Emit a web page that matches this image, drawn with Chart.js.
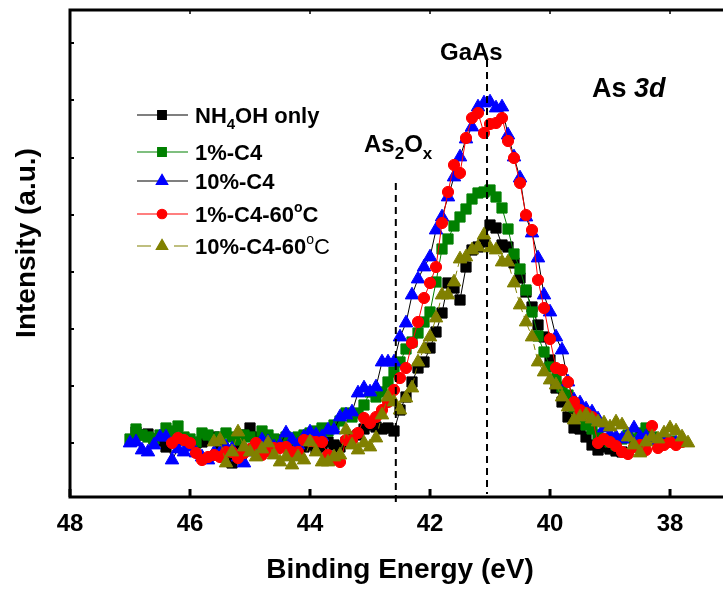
<!DOCTYPE html>
<html>
<head>
<meta charset="utf-8">
<script src="https://cdn.jsdelivr.net/npm/chart.js@4.4.1/dist/chart.umd.min.js"></script>
<style>
  html, body { margin: 0; padding: 0; background: #fff; }
  #wrap { width: 723px; height: 589px; }
</style>
</head>
<body>
<div id="wrap"><canvas id="xps" width="723" height="589"></canvas></div>
<script>
// binding energy grid (eV), shared by every spectrum
const energy = [
  47.0, 46.9, 46.8, 46.7, 46.6, 46.5, 46.4, 46.3, 46.2, 46.1,
  46.0, 45.9, 45.8, 45.7, 45.6, 45.5, 45.4, 45.3, 45.2, 45.1,
  45.0, 44.9, 44.8, 44.7, 44.6, 44.5, 44.4, 44.3, 44.2, 44.1,
  44.0, 43.9, 43.8, 43.7, 43.6, 43.5, 43.4, 43.3, 43.2, 43.1,
  43.0, 42.9, 42.8, 42.7, 42.6, 42.5, 42.4, 42.3, 42.2, 42.1,
  42.0, 41.9, 41.8, 41.7, 41.6, 41.5, 41.4, 41.3, 41.2, 41.1,
  41.0, 40.9, 40.8, 40.7, 40.6, 40.5, 40.4, 40.3, 40.2, 40.1,
  40.0, 39.9, 39.8, 39.7, 39.6, 39.5, 39.4, 39.3, 39.2, 39.1,
  39.0, 38.9, 38.8, 38.7, 38.6, 38.5, 38.4, 38.3, 38.2, 38.1,
  38.0, 37.9, 37.8, 37.7
]

// As 3d intensity (a.u.)
const nh4ohOnly = [
  null, 65, 62, 63, 58, 56, 50, 55, 60, 57,
  52, 54, 55, 58, 60, 50, 45, 34, 50, 62,
  69, 60, 55, 52, 54, 57, 52, 55, 58, 50,
  52, 48, 50, 55, 52, 50, 55, 60, 62, 68,
  72, 70, 68, 69, 66, 87, 100, 115, 129, 135,
  149, 165, 184, 214, 209, 197, 230, 247, 250, 255,
  272, 269, 252, 250, 234, 219, 205, 190, 172, 160,
  137, 109, 95, 80, 69, 68, 60, 52, 47, 50,
  48, 46, 45, null, null, null, null, null, null, null,
  null, null, null, null
]
const c4OnePct = [
  58, 68, 62, 60, 58, 62, 69, 66, 71, 60,
  58, 55, 64, 62, 58, 60, 64, 60, 57, 62,
  60, 55, 66, 62, 58, 54, 60, 57, 60, 62,
  64, 66, 69, 66, 72, 76, 84, 80, 84, 92,
  105, 100, 105, 115, 125, 135, 148, 155, 164, 175,
  185, 215, 248, 258, 271, 280, 288, 298, 304, 305,
  307, 300, 289, 268, 243, 228, 207, 185, 161, 145,
  130, 118, 110, 102, 90, 80, 72, 68, 62, 58,
  55, 52, 58, 62, 58, 64, 69, 60, 58, 55,
  56, null, null, null
]
const c4TenPct = [
  54, 55, 47, 45, 52, 60, 60, 37, 48, 45,
  50, 44, 40, 37, 44, 44, 50, 48, 40, 34,
  45, 50, 57, 55, 50, 52, 64, 57, 52, 60,
  65, 62, 60, 67, 67, 80, 82, 85, 104, 109,
  105, 110, 135, 135, 135, 160, 174, 202, 218, 230,
  240, 267, 280, 300, 320, 340, 358, 370, 390, 394,
  395, 389, 390, 362, 340, 319, 280, 264, 239, 202,
  185, 160, 147, 115, 97, 94, 88, 85, 78, 69,
  62, 60, 58, 62, 69, 60, 60, 60, 56, 55,
  54, 54, null, null
]
const c4OnePct60 = [
  null, null, null, null, null, null, null, 54, 59, 57,
  54, 44, 37, 40, 42, 40, 45, 45, 39, 44,
  48, 54, 42, 46, 49, 49, 50, 45, 45, 57,
  56, 55, 55, 42, 38, 35, 57, 57, 64, 79,
  74, 80, 87, 95, 107, 119, 129, 154, 175, 199,
  214, 230, 274, 305, 332, 324, 359, 379, 384, 364,
  373, 374, 379, 356, 339, 314, 282, 267, 217, 189,
  158, 129, 127, 115, 95, 87, 84, 80, 54, 58,
  55, 51, 45, 43, 50, 52, 47, 71, 49, 52,
  55, 52, 55, null
]
const c4TenPct60 = [
  null, null, null, null, null, null, null, null, null, null,
  null, null, null, null, 55, 57, 34, 45, 65, 50,
  45, 40, 48, 54, 42, 35, 40, 32, 40, 37,
  55, 45, 35, 35, 40, 42, 67, 52, 47, 54,
  50, 59, 82, 100, 95, 87, 99, 109, 135, 148,
  160, 179, 202, 202, 215, 238, 240, 247, 250, 262,
  249, 247, 235, 235, 214, 192, 175, 160, 135, 125,
  117, 112, 100, 90, 77, 80, 82, 78, 75, 74,
  70, 75, 72, 60, 52, 44, 55, 60, 58, 64,
  69, 66, 60, 54
]

const xTicks = [48, 46, 44, 42, 40, 38]
const yTicks = [54, 111, 168, 225, 282, 339, 397, 454]
const gaasPeak = 41.05
const oxidePeak = 42.57

const FONT = 'Arial, "Liberation Sans", sans-serif'

const toPoints = (vals) => energy
  .map((e, i) => ({ x: e, y: vals[i] }))
  .filter((p) => p.y !== null)

const series = [
  { label: 'NH4OH only', vals: nh4ohOnly, line: '#000000', fill: '#000000', style: 'rect', r: 7.2, order: 5 },
  { label: '1%-C4', vals: c4OnePct, line: '#008000', fill: '#008000', style: 'rect', r: 7.2, order: 4 },
  { label: '10%-C4', vals: c4TenPct, line: '#000000', fill: '#0000ff', style: 'triangle', r: 7.8, order: 3 },
  { label: '1%-C4-60°C', vals: c4OnePct60, line: '#ff0000', fill: '#ff0000', style: 'circle', r: 5.6, order: 2 },
  { label: '10%-C4-60℃', vals: c4TenPct60, line: '#808000', fill: '#808000', style: 'triangle', r: 7.8, order: 1, dash: [6, 4] },
]

// draws a run of text pieces (for sub/superscripts)
const drawRich = (ctx, x, y, parts) => {
  let cx = x
  parts.forEach((p) => {
    ctx.font = `${p.weight || 'bold'} ${p.size}px ${FONT}`
    ctx.fillText(p.t, cx, y + (p.dy || 0))
    cx += ctx.measureText(p.t).width
  })
}

const legendRows = [
  [{ t: 'NH', size: 22 }, { t: '4', size: 15, dy: 6 }, { t: 'OH only', size: 22 }],
  [{ t: '1%-C4', size: 22 }],
  [{ t: '10%-C4', size: 22 }],
  [{ t: '1%-C4-60', size: 22 }, { t: 'o', size: 14, dy: -10 }, { t: 'C', size: 22 }],
  [{ t: '10%-C4-60', size: 22 }, { t: 'o', size: 14, dy: -10, weight: 'normal' }, { t: 'C', size: 22, weight: 'normal' }],
]
const legendY = [115, 152, 181, 214, 246]

const decorations = {
  id: 'decorations',
  afterDatasetsDraw(chart) {
    const { ctx, chartArea: a, scales: { x, y } } = chart
    ctx.save()
    ctx.strokeStyle = '#000'
    ctx.fillStyle = '#000'

    // peak position markers
    ctx.lineWidth = 2
    ctx.setLineDash([7, 5])
    const gx = x.getPixelForValue(gaasPeak)
    const ox = x.getPixelForValue(oxidePeak)
    ctx.beginPath()
    ctx.moveTo(gx, 60); ctx.lineTo(gx, 494)
    ctx.moveTo(ox, 183); ctx.lineTo(ox, 506)
    ctx.stroke()
    ctx.setLineDash([])

    // frame
    ctx.lineWidth = 3
    ctx.beginPath()
    ctx.moveTo(a.right + 3, a.top)
    ctx.lineTo(a.left, a.top)
    ctx.lineTo(a.left, a.bottom)
    ctx.lineTo(a.right + 3, a.bottom)
    ctx.stroke()

    // inward tick marks
    xTicks.forEach((v) => {
      const px = x.getPixelForValue(v)
      ctx.lineWidth = 3
      ctx.beginPath(); ctx.moveTo(px, a.bottom); ctx.lineTo(px, a.bottom - 8); ctx.stroke()
      ctx.lineWidth = 1.5
      ctx.beginPath(); ctx.moveTo(px, a.top); ctx.lineTo(px, a.top + 4); ctx.stroke()
    })
    ctx.lineWidth = 2
    yTicks.forEach((v) => {
      const py = y.getPixelForValue(v)
      ctx.beginPath(); ctx.moveTo(a.left, py); ctx.lineTo(a.left + 4, py); ctx.stroke()
    })

    // peak labels
    ctx.textBaseline = 'alphabetic'
    ctx.textAlign = 'left'
    drawRich(ctx, 440, 60, [{ t: 'GaAs', size: 24 }])
    drawRich(ctx, 364, 152, [{ t: 'As', size: 24 }, { t: '2', size: 17, dy: 7 }, { t: 'O', size: 24 }, { t: 'x', size: 17, dy: 7 }])
    drawRich(ctx, 592, 97, [{ t: 'As ', size: 27 }, { t: '3d', size: 27, weight: 'italic bold' }])

    // legend
    chart.data.datasets.forEach((ds, i) => {
      const ly = legendY[i]
      ctx.strokeStyle = ds.borderColor
      ctx.lineWidth = 1.2
      ctx.beginPath()
      if (ds.borderDash) {
        ctx.moveTo(137, ly); ctx.lineTo(151, ly)
        ctx.moveTo(174, ly); ctx.lineTo(188, ly)
      } else {
        ctx.moveTo(137, ly); ctx.lineTo(188, ly)
      }
      ctx.stroke()
      ctx.fillStyle = ds.pointBackgroundColor
      ctx.strokeStyle = ds.pointBackgroundColor
      Chart.helpers.drawPoint(ctx, {
        pointStyle: ds.pointStyle, radius: ds.pointRadius * 0.85, rotation: 0, borderWidth: 1,
      }, 162, ly)
      ctx.fillStyle = '#000'
      drawRich(ctx, 195, ly + 8, legendRows[i])
    })

    // axis titles
    ctx.font = `bold 28px ${FONT}`
    ctx.textAlign = 'center'
    ctx.fillText('Binding Energy (eV)', 400, 578)
    ctx.translate(35, 243)
    ctx.rotate(-Math.PI / 2)
    ctx.fillText('Intensity (a.u.)', 0, 0)
    ctx.restore()
  },
}

new Chart(document.getElementById('xps'), {
  type: 'line',
  data: {
    datasets: series.map((s) => ({
      label: s.label,
      data: toPoints(s.vals),
      borderColor: s.line,
      borderWidth: 1,
      borderDash: s.dash,
      pointStyle: s.style,
      pointRadius: s.r,
      pointBackgroundColor: s.fill,
      pointBorderColor: s.fill,
      pointBorderWidth: 1,
      tension: 0,
      order: s.order,
    })),
  },
  options: {
    responsive: false,
    animation: false,
    devicePixelRatio: 1,
    layout: { autoPadding: false, padding: { top: 10, right: 0, bottom: 0, left: 0 } },
    plugins: { legend: { display: false }, tooltip: { enabled: false } },
    scales: {
      x: {
        type: 'linear',
        reverse: true,
        min: 37.117,
        max: 48,
        afterBuildTicks: (s) => { s.ticks = xTicks.map((v) => ({ value: v })) },
        afterFit: (s) => {
          s.height = 92
          s.paddingLeft = 0
          s.paddingRight = 0
        },
        grid: { display: false, drawTicks: false },
        border: { display: false },
        ticks: {
          color: '#000',
          padding: 13,
          maxRotation: 0,
          autoSkip: false,
          font: { family: FONT, size: 24, weight: 'bold' },
        },
      },
      y: {
        min: 0,
        max: 487,
        afterFit: (s) => { s.width = 70 },
        grid: { display: false, drawTicks: false },
        border: { display: false },
        ticks: { display: false },
      },
    },
  },
  plugins: [decorations],
})
</script>
</body>
</html>
